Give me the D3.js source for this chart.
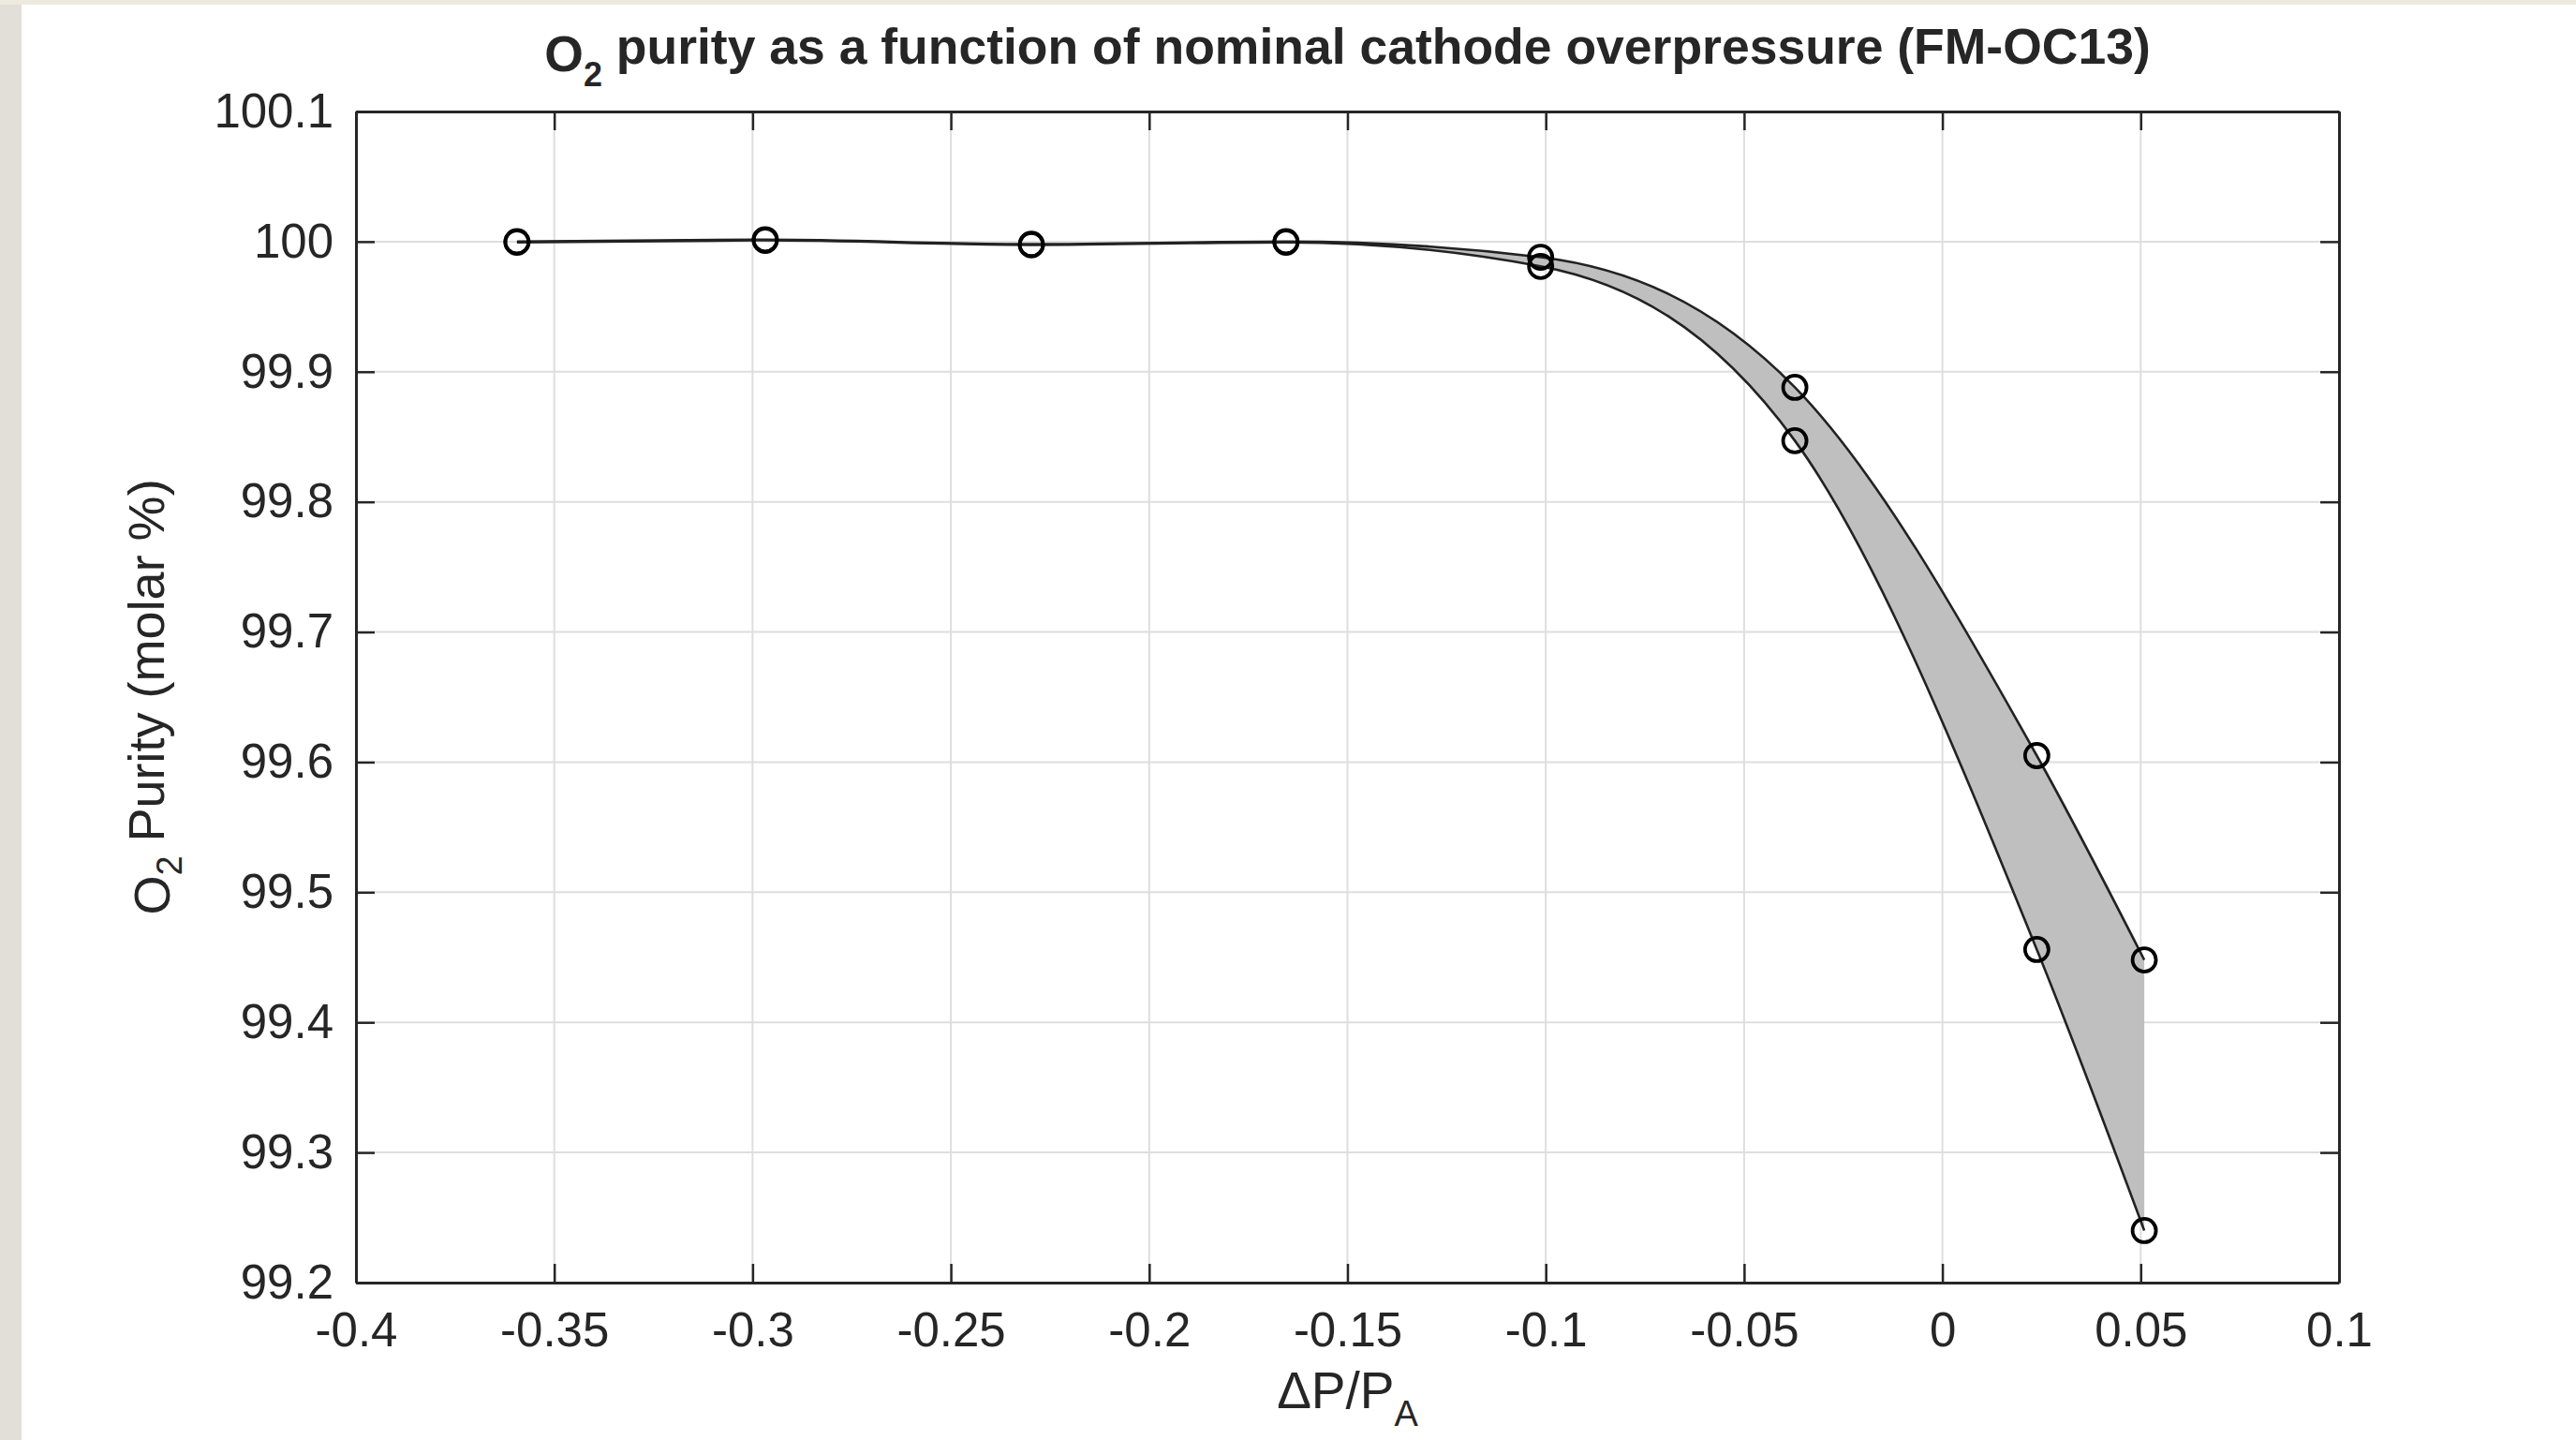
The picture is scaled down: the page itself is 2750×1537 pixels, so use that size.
<!DOCTYPE html>
<html>
<head>
<meta charset="utf-8">
<script src="https://cdn.jsdelivr.net/npm/d3@7"></script>
<style>
  body { margin: 0; background: #ffffff; }
  text { font-family: "Liberation Sans", Arial, Helvetica, sans-serif; fill: #262626; }
</style>
</head>
<body>
<div id="chart"></div>
<script>
// values
const dpRatio    = [-0.3594, -0.2968, -0.2297, -0.1655, -0.1013, -0.0372, 0.0238, 0.0509];
const purityHigh = [100.000, 100.0015, 99.998, 100.000, 99.988, 99.888, 99.605, 99.448];
const purityLow  = [99.9995, 100.001, 99.9975, 99.9995, 99.981, 99.847, 99.456, 99.240];

const xTicks = [-0.4, -0.35, -0.3, -0.25, -0.2, -0.15, -0.1, -0.05, 0, 0.05, 0.1];
const xTickLabels = ["-0.4", "-0.35", "-0.3", "-0.25", "-0.2", "-0.15", "-0.1", "-0.05", "0", "0.05", "0.1"];
const yTicks = [99.2, 99.3, 99.4, 99.5, 99.6, 99.7, 99.8, 99.9, 100, 100.1];
const yTickLabels = ["99.2", "99.3", "99.4", "99.5", "99.6", "99.7", "99.8", "99.9", "100", "100.1"];

// set the dimensions and margins of the graph
const W = 2750, H = 1537;
const margin = { top: 119, right: 253, bottom: 168, left: 380 },
    width = W - margin.left - margin.right,
    height = H - margin.top - margin.bottom;

const root = d3.select("#chart")
  .append("svg")
    .attr("width", W)
    .attr("height", H);

// photo frame strips
root.append("rect").attr("x", 0).attr("y", 0).attr("width", W).attr("height", H).attr("fill", "#ffffff");
root.append("rect").attr("x", 0).attr("y", 0).attr("width", 23).attr("height", H).attr("fill", "#e2dfd8");
root.append("rect").attr("x", 0).attr("y", 0).attr("width", W).attr("height", 5).attr("fill", "#eeeae0");

const svg = root.append("g")
    .attr("transform", `translate(${margin.left},${margin.top})`);

const x = d3.scaleLinear().domain([-0.4, 0.1]).range([0, width]);
const y = d3.scaleLinear().domain([99.2, 100.1]).range([height, 0]);

// grid
svg.append("g")
  .selectAll("line.gx")
  .data(xTicks)
  .join("line")
    .attr("x1", d => x(d)).attr("x2", d => x(d))
    .attr("y1", 0).attr("y2", height)
    .attr("stroke", "#dedede").attr("stroke-width", 2);
svg.append("g")
  .selectAll("line.gy")
  .data(yTicks)
  .join("line")
    .attr("y1", d => y(d)).attr("y2", d => y(d))
    .attr("x1", 0).attr("x2", width)
    .attr("stroke", "#dedede").attr("stroke-width", 2);

const rows = dpRatio.map((d, i) => ({ x: d, hi: purityHigh[i], lo: purityLow[i] }));

// shaded band
svg.append("path")
  .datum(rows)
  .attr("fill", "#bfbfbf")
  .attr("d", d3.area()
    .curve(d3.curveMonotoneX)
    .x(d => x(d.x))
    .y0(d => y(d.lo))
    .y1(d => y(d.hi)));

// bounding curves
[ "hi", "lo" ].forEach(k => {
  svg.append("path")
    .datum(rows)
    .attr("fill", "none")
    .attr("stroke", "#222")
    .attr("stroke-width", 2.6)
    .attr("d", d3.line()
      .curve(d3.curveMonotoneX)
      .x(d => x(d.x))
      .y(d => y(d[k])));
});

// markers
[ "hi", "lo" ].forEach(k => {
  svg.append("g")
    .selectAll("circle")
    .data(rows)
    .join("circle")
      .attr("cx", d => x(d.x))
      .attr("cy", d => y(d[k]))
      .attr("r", 12.5)
      .attr("fill", "none")
      .attr("stroke", "#000")
      .attr("stroke-width", 3.8);
});

// axes (box with inward ticks)
const styleAxis = g => {
  g.select(".domain").attr("stroke", "#262626").attr("stroke-width", 3);
  g.selectAll(".tick line").attr("stroke", "#262626").attr("stroke-width", 2.5);
  g.selectAll("text").style("font-size", "51px").attr("fill", "#262626");
};

svg.append("g")
  .attr("transform", `translate(0,${height})`)
  .call(d3.axisBottom(x).tickValues(xTicks).tickFormat((d, i) => xTickLabels[i])
    .tickSizeInner(-20).tickSizeOuter(0).tickPadding(32))
  .call(styleAxis)
  .call(g => g.attr("font-family", null));

svg.append("g")
  .call(d3.axisTop(x).tickValues(xTicks).tickFormat("")
    .tickSizeInner(-20).tickSizeOuter(0))
  .call(styleAxis);

svg.append("g")
  .call(d3.axisLeft(y).tickValues(yTicks).tickFormat((d, i) => yTickLabels[i])
    .tickSizeInner(-20).tickSizeOuter(0).tickPadding(24))
  .call(styleAxis)
  .call(g => g.attr("font-family", null));

svg.append("g")
  .attr("transform", `translate(${width},0)`)
  .call(d3.axisRight(y).tickValues(yTicks).tickFormat("")
    .tickSizeInner(-20).tickSizeOuter(0))
  .call(styleAxis);

// title
const title = root.append("text")
  .attr("x", margin.left + width / 2)
  .attr("y", 76)
  .attr("text-anchor", "middle")
  .style("font-size", "53.5px")
  .style("font-weight", "bold");
title.append("tspan").text("O");
title.append("tspan").attr("dy", "0.45em").style("font-size", "36px").text("2");
title.append("tspan").attr("dy", "-0.45em").text(" purity as a function of nominal cathode overpressure (FM-OC13)");

// x label
const xl = root.append("text")
  .attr("x", margin.left + width / 2)
  .attr("y", 1503)
  .attr("text-anchor", "middle")
  .style("font-size", "55px");
xl.append("tspan").text("ΔP/P");
xl.append("tspan").attr("dy", "0.5em").style("font-size", "38px").text("A");

// y label
const yl = root.append("text")
  .attr("transform", `translate(181,${margin.top + height / 2}) rotate(-90)`)
  .attr("text-anchor", "middle")
  .style("font-size", "54px");
yl.append("tspan").text("O");
yl.append("tspan").attr("dy", "0.35em").style("font-size", "38px").text("2");
yl.append("tspan").attr("dy", "-0.35em").text(" Purity (molar %)");
</script>
</body>
</html>
